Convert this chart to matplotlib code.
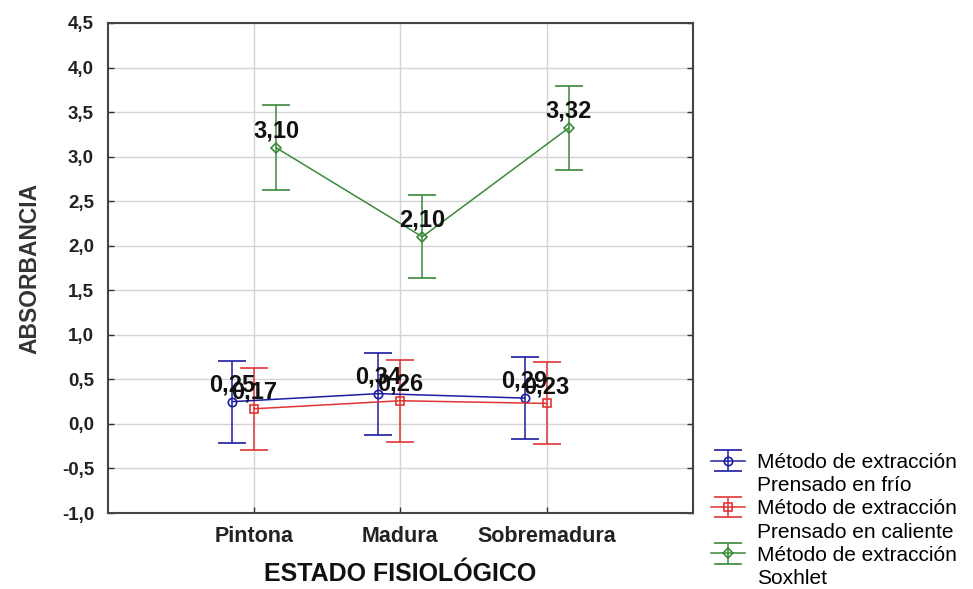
import numpy as np
import matplotlib.pyplot as plt
from matplotlib.lines import Line2D

plt.rcParams['font.family'] = ['Liberation Sans', 'DejaVu Sans']

estados = ['Pintona', 'Madura', 'Sobremadura']
frio = [0.25, 0.34, 0.29]
caliente = [0.17, 0.26, 0.23]
soxhlet = [3.10, 2.10, 3.32]
err_frio = [0.46, 0.46, 0.46]
err_caliente = [0.46, 0.46, 0.46]
err_soxhlet = [0.475, 0.465, 0.47]
nombres = [('Método de extracción', 'Prensado en frío'),
           ('Método de extracción', 'Prensado en caliente'),
           ('Método de extracción', 'Soxhlet')]
yticks = [-1.0, -0.5, 0.0, 0.5, 1.0, 1.5, 2.0, 2.5, 3.0, 3.5, 4.0, 4.5]

fig = plt.figure(figsize=(9.73, 5.89), dpi=100)
ax = fig.add_axes([0.111, 0.129, 0.601, 0.832])

x = np.arange(1, len(estados) + 1)
series = [
    (frio, err_frio, -0.15, '#1c1ca0', 'o', 6),
    (caliente, err_caliente, 0.0, '#e03535', 's', 6),
    (soxhlet, err_soxhlet, 0.15, '#3a8a3a', 'D', 5),
]
handles = []
for vals, errs, off, col, mk, ms in series:
    h = ax.errorbar(x + off, vals, yerr=errs, color=col, marker=mk, ms=ms,
                    mfc='none', mec=col, mew=1.2, lw=1.1, capsize=10,
                    elinewidth=1.1, capthick=1.1, zorder=3)
    handles.append(h)
    for xi, v in zip(x + off, vals):
        ax.annotate(f'{v:.2f}'.replace('.', ','), (xi, v), xytext=(0, 7.5),
                    textcoords='offset points', ha='center', va='baseline',
                    fontsize=17, fontweight='bold', color='#111111',
                    zorder=4)

ax.set_xlim(0, 4)
ax.set_ylim(-1.0, 4.5)
ax.set_xticks(x)
ax.set_xticklabels(estados, fontsize=15.5, fontweight='bold', color='#222222')
ax.set_yticks(yticks)
ax.set_yticklabels([f'{t:.1f}'.replace('.', ',') for t in yticks],
                   fontsize=13.5, fontweight='bold', color='#222222')
ax.tick_params(axis='y', direction='in', length=4, width=1, color='#333333',
               right=True, pad=10)
ax.tick_params(axis='x', direction='in', length=4, width=1, color='#333333',
               pad=9)
ax.grid(True, color='#d4d4d4', lw=1)
ax.set_axisbelow(True)
for s in ax.spines.values():
    s.set_color('#444444')
    s.set_linewidth(1.5)

ax.set_xlabel('ESTADO FISIOLÓGICO', fontsize=18, fontweight='bold',
              labelpad=11, color='#111111')
ax.set_ylabel('ABSORBANCIA', fontsize=16.5, fontweight='bold',
              labelpad=15, color='#333333')

# legend: one entry per text line, the marker only on the first line
blank = Line2D([], [], color='none')
leg_h, leg_l = [], []
for h, (l1, l2) in zip(handles, nombres):
    leg_h += [h, blank]
    leg_l += [l1, l2]
fig.legend(handles=leg_h, labels=leg_l, loc='upper left',
           bbox_to_anchor=(0.731, 1 - 453 / 589), frameon=False, fontsize=15,
           handlelength=1.6, handletextpad=0.6, labelspacing=0.2,
           borderaxespad=0, borderpad=0)

fig.savefig('out.png', dpi=100)
